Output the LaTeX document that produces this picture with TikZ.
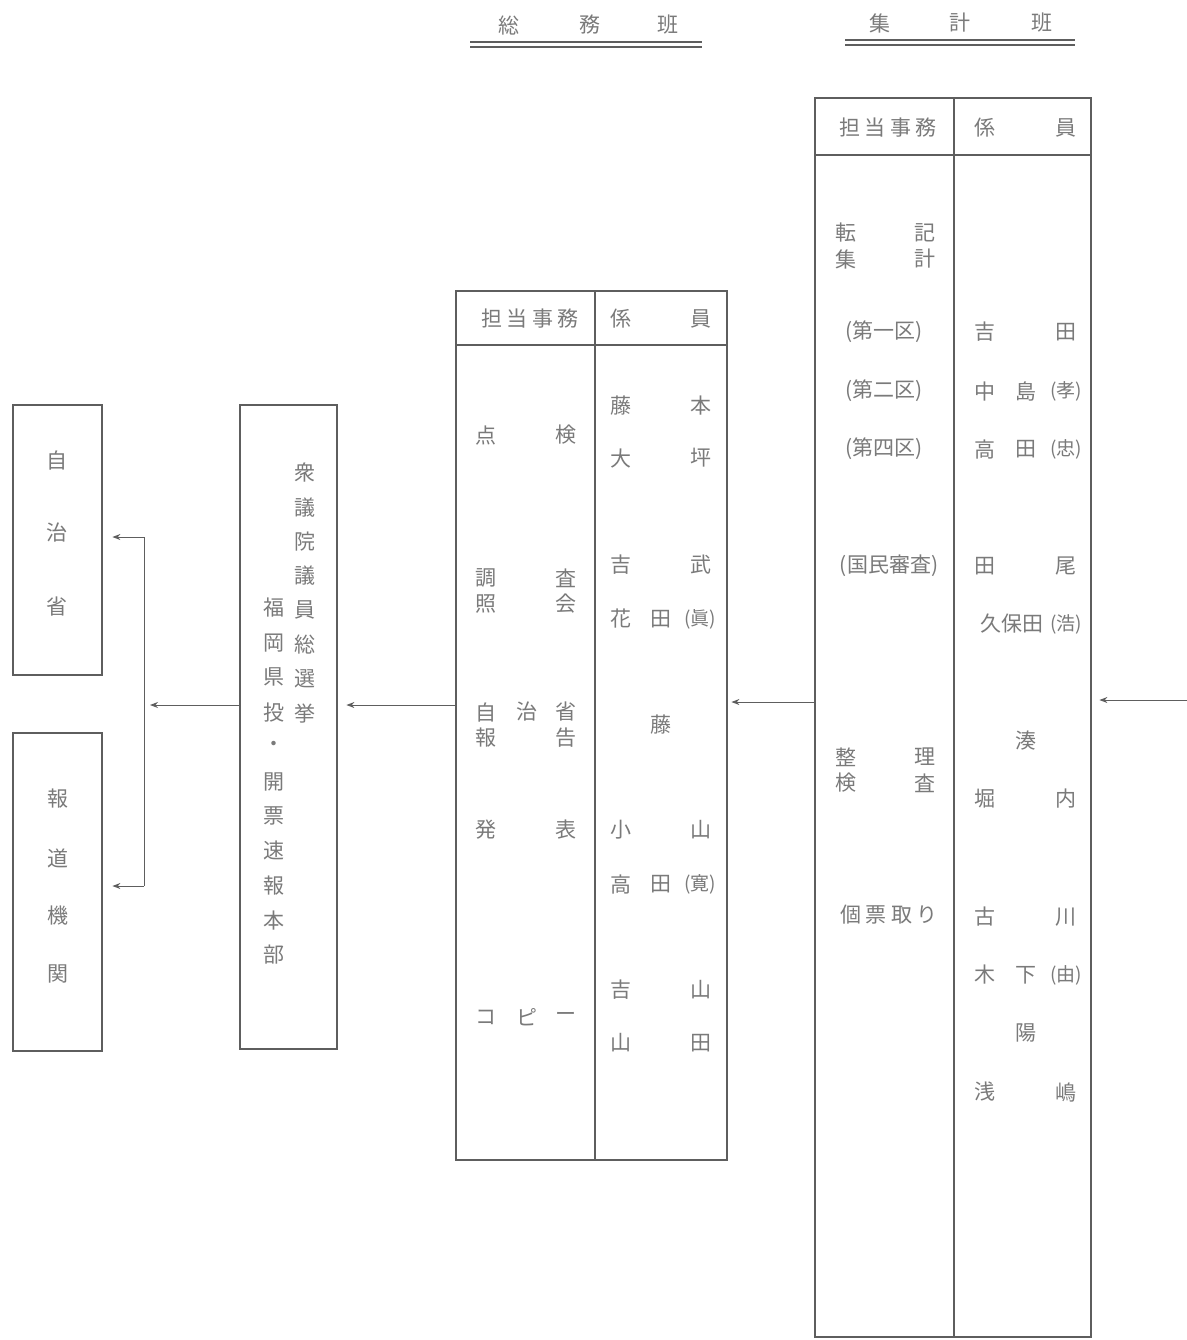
\documentclass[tikz,border=0pt]{standalone}
\usepackage{fontspec}
\newfontfamily\jp{Noto Sans CJK JP}
\newfontfamily\jpw[LetterSpace=22]{Noto Sans CJK JP}
\usetikzlibrary{arrows.meta}
\definecolor{txt}{HTML}{7A7A7A}
\definecolor{ln}{HTML}{5E5E5E}
\tikzset{
  t/.style={text=txt, font=\jp\fontsize{10.5}{11}\selectfont, inner sep=0pt},
  tw/.style={text=txt, font=\jpw\fontsize{10.5}{11}\selectfont, inner sep=0pt},
  ts/.style={text=txt, font=\jp\fontsize{9.5}{10}\selectfont, inner sep=0pt},
  box/.style={draw=ln, line width=1.4pt, inner sep=0pt},
  rule/.style={draw=ln, line width=0.6pt},
  arr/.style={draw=ln, line width=0.5pt, -{Stealth[length=4pt,width=3pt]}},
}
\begin{document}
\begin{tikzpicture}[x=0.5pt,y=-0.5pt]
\useasboundingbox (0,0) rectangle (1187,1340);
\fill[white] (0,0) rectangle (1187,1340);

% headers
\node[t] (h1a) at (509,25) {総};
\node[t] (h1b) at (590,25) {務};
\node[t] (h1c) at (668,25) {班};
\draw[ln, line width=0.6pt] (470,42) -- (702,42) (470,47) -- (702,47);
\node[t] (h2a) at (880,23) {集};
\node[t] (h2b) at (960,23) {計};
\node[t] (h2c) at (1042,23) {班};
\draw[ln, line width=0.6pt] (845,40) -- (1075,40) (845,45) -- (1075,45);

% 集計班 table
\node[box, minimum width=138pt, minimum height=619.5pt] (shukei) at (953,717.5) {};
\draw[rule] (815,155) -- (1091,155);
\draw[rule] (954,98) -- (954,1337);
\node[tw] (sk0) at (888,128) {担当事務};
\node[t] (sk1) at (985,128) {係};
\node[t] (sk2) at (1066,128) {員};
\node[t] (a1) at (846,233) {転};
\node[t] (a2) at (925,233) {記};
\node[t] (a3) at (846,259) {集};
\node[t] (a4) at (925,259) {計};
\node[t] (a5) at (884,332) {(第一区)};
\node[t] (a6) at (884,391) {(第二区)};
\node[t] (a7) at (884,449) {(第四区)};
\node[t] (a8) at (889,566) {(国民審査)};
\node[t] (a9) at (846,757) {整};
\node[t] (a10) at (925,757) {理};
\node[t] (a11) at (846,783) {検};
\node[t] (a12) at (925,783) {査};
\node[tw] (a13) at (889,915) {個票取り};
\node[t] (b1) at (985,332) {吉};
\node[t] (b2) at (1066,332) {田};
\node[t] (b3) at (985,391) {中};
\node[t] (b4) at (1026,391) {島};
\node[ts] (b5) at (1066,391) {(孝)};
\node[t] (b6) at (985,449) {高};
\node[t] (b7) at (1026,449) {田};
\node[ts] (b8) at (1066,449) {(忠)};
\node[t] (b9) at (985,566) {田};
\node[t] (b10) at (1066,566) {尾};
\node[t] (b11) at (1012,624) {久保田};
\node[ts] (b12) at (1066,624) {(浩)};
\node[t] (b13) at (1026,741) {湊};
\node[t] (b14) at (985,799) {堀};
\node[t] (b15) at (1066,799) {内};
\node[t] (b16) at (985,917) {古};
\node[t] (b17) at (1066,917) {川};
\node[t] (b18) at (985,975) {木};
\node[t] (b19) at (1026,975) {下};
\node[ts] (b20) at (1066,975) {(由)};
\node[t] (b21) at (1026,1033) {陽};
\node[t] (b22) at (985,1092) {浅};
\node[t] (b23) at (1066,1092) {嶋};

% 総務班 table
\node[box, minimum width=135.5pt, minimum height=434.5pt] (somu) at (591.5,725.5) {};
\draw[rule] (456,345) -- (727,345);
\draw[rule] (595,291) -- (595,1160);
\node[tw] (sm0) at (530,319) {担当事務};
\node[t] (sm1) at (621,319) {係};
\node[t] (sm2) at (701,319) {員};
\node[t] (c1) at (486,435) {点};
\node[t] (c2) at (566,435) {検};
\node[t] (c3) at (486,578) {調};
\node[t] (c4) at (566,578) {査};
\node[t] (c5) at (486,604) {照};
\node[t] (c6) at (566,604) {会};
\node[t] (c7) at (486,712) {自};
\node[t] (c8) at (527,712) {治};
\node[t] (c9) at (566,712) {省};
\node[t] (c10) at (486,738) {報};
\node[t] (c11) at (566,738) {告};
\node[t] (c12) at (486,830) {発};
\node[t] (c13) at (566,830) {表};
\node[t] (c14) at (486,1017) {コ};
\node[t] (c15) at (527,1017) {ピ};
\node[t] (c16) at (566,1017) {ー};
\node[t] (d1) at (621,406) {藤};
\node[t] (d2) at (701,406) {本};
\node[t] (d3) at (621,458) {大};
\node[t] (d4) at (701,458) {坪};
\node[t] (d5) at (621,565) {吉};
\node[t] (d6) at (701,565) {武};
\node[t] (d7) at (621,619) {花};
\node[t] (d8) at (661,619) {田};
\node[ts] (d9) at (700,619) {(眞)};
\node[t] (d10) at (661,725) {藤};
\node[t] (d11) at (621,830) {小};
\node[t] (d12) at (701,830) {山};
\node[t] (d13) at (621,884) {高};
\node[t] (d14) at (661,884) {田};
\node[ts] (d15) at (700,884) {(寛)};
\node[t] (d16) at (621,990) {吉};
\node[t] (d17) at (701,990) {山};
\node[t] (d18) at (621,1043) {山};
\node[t] (d19) at (701,1043) {田};

% 本部
\node[box, minimum width=48.5pt, minimum height=322pt] (honbu) at (288.5,727) {};
\foreach \c [count=\i] in {衆,議,院,議,員,総,選,挙}
  \node[t] (r\i) at (305,{473+(\i-1)*34.3}) {\c};
\foreach \c [count=\i] in {福,岡,県,投,・,開,票,速,報,本,部}
  \node[t] (l\i) at (274,{608+(\i-1)*34.7}) {\c};

% left boxes
\node[box, minimum width=44.5pt, minimum height=135pt] (jichi) at (57.5,540) {};
\node[t] (j1) at (57,460) {自};
\node[t] (j2) at (57,533) {治};
\node[t] (j3) at (57,607) {省};
\node[box, minimum width=44.5pt, minimum height=159pt] (hodo) at (57.5,892) {};
\node[t] (k1) at (58,799) {報};
\node[t] (k2) at (58,858) {道};
\node[t] (k3) at (58,916) {機};
\node[t] (k4) at (58,974) {関};

% connectors
\coordinate (src) at (1187,700);
\coordinate (ay) at (0,702);
\coordinate (hy) at (0,705);
\coordinate (brtip) at (150,705);
\coordinate (bt) at (144,537);
\coordinate (bb) at (144,886);
\draw[arr, shorten >=3.5pt] (src) -- (shukei.east |- src);
\draw[arr, shorten >=1.5pt] (shukei.west |- ay) -- (somu.east |- ay);
\draw[arr, shorten >=4pt] (somu.west |- hy) -- (honbu.east |- hy);
\draw[arr] (honbu.west |- hy) -- (brtip);
\draw[draw=ln, line width=0.5pt] (bt) -- (bb);
\draw[arr, shorten >=4.5pt] (bt) -- (jichi.east |- bt);
\draw[arr, shorten >=4.5pt] (bb) -- (hodo.east |- bb);
\end{tikzpicture}
\end{document}
